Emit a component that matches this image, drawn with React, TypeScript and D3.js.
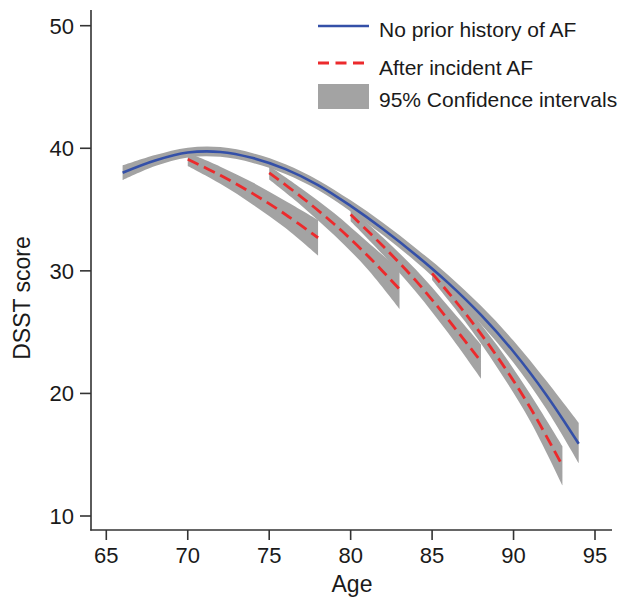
import React, { useEffect, useRef } from 'react';
import * as d3 from 'd3';

// no prior history of AF (blue) with its 95% CI
const blueAges = [66, 68, 70, 72, 74, 76, 78, 80, 82, 84, 86, 88, 90, 92, 94];
const blueScore = [38.0, 39.0, 39.65, 39.7, 39.2, 38.3, 37.0, 35.3, 33.4, 31.3, 29.0, 26.4, 23.4, 19.9, 15.9];
const blueLow = [37.4, 38.55, 39.25, 39.3, 38.8, 37.9, 36.6, 34.85, 32.9, 30.75, 28.35, 25.65, 22.5, 18.75, 14.3];
const blueHigh = [38.6, 39.45, 40.05, 40.1, 39.6, 38.7, 37.4, 35.75, 33.9, 31.85, 29.65, 27.15, 24.3, 21.05, 17.6];

// after incident AF, one segment per onset age
const afAges1 = [70, 72, 74, 76, 78];
const afScore1 = [39.1, 37.8, 36.3, 34.6, 32.7];
const afLow1 = [38.55, 37.1, 35.4, 33.5, 31.25];
const afHigh1 = [39.65, 38.5, 37.2, 35.7, 34.15];

const afAges2 = [75, 77, 79, 81, 83];
const afScore2 = [38.0, 36.0, 33.8, 31.3, 28.5];
const afLow2 = [37.45, 35.3, 32.9, 30.2, 26.9];
const afHigh2 = [38.55, 36.7, 34.7, 32.4, 30.1];

const afAges3 = [80, 82, 84, 86, 88];
const afScore3 = [34.6, 32.0, 29.2, 26.0, 22.6];
const afLow3 = [34.05, 31.3, 28.3, 24.9, 21.2];
const afHigh3 = [35.15, 32.7, 30.1, 27.1, 24.0];

const afAges4 = [85, 87, 89, 91, 93];
const afScore4 = [29.8, 26.6, 23.0, 18.9, 14.1];
const afLow4 = [29.25, 25.9, 22.1, 17.8, 12.5];
const afHigh4 = [30.35, 27.3, 23.9, 20.0, 15.7];

const xTicks = [65, 70, 75, 80, 85, 90, 95];
const yTicks = [10, 20, 30, 40, 50];
const legendLabels = ['No prior history of AF', 'After incident AF', '95% Confidence intervals'];

const BLUE = '#3450a8';
const RED = '#ec2a2c';
const GREY = '#a3a3a3';
const AXIS = '#333333';
const FONT = '"Liberation Sans", Arial, Helvetica, sans-serif';

const App = () => {
  const ref = useRef<SVGSVGElement>(null);

  useEffect(() => {
    const svg = d3.select(ref.current);
    svg.selectAll('*').remove();

    const x = d3.scaleLinear().domain([65, 95]).range([106.3, 595]);
    const y = d3.scaleLinear().domain([10, 50]).range([516, 25.7]);

    const series = [
      { ages: blueAges, mid: blueScore, lo: blueLow, hi: blueHigh, color: BLUE, dash: null },
      { ages: afAges1, mid: afScore1, lo: afLow1, hi: afHigh1, color: RED, dash: '12,6' },
      { ages: afAges2, mid: afScore2, lo: afLow2, hi: afHigh2, color: RED, dash: '12,6' },
      { ages: afAges3, mid: afScore3, lo: afLow3, hi: afHigh3, color: RED, dash: '12,6' },
      { ages: afAges4, mid: afScore4, lo: afLow4, hi: afHigh4, color: RED, dash: '12,6' },
    ];

    const curve = d3.curveCatmullRom.alpha(0.5);

    const area = d3.area<number>()
      .x(d => x(d))
      .curve(curve);

    const line = d3.line<[number, number]>()
      .x(d => x(d[0]))
      .y(d => y(d[1]))
      .curve(curve);

    // confidence bands underneath everything
    series.forEach(s => {
      const a = area
        .y0((_, i) => y(s.lo[i]))
        .y1((_, i) => y(s.hi[i]));
      svg.append('path')
        .attr('d', a(s.ages))
        .attr('fill', GREY)
        .attr('stroke', 'none');
    });

    series.forEach(s => {
      const p = svg.append('path')
        .attr('d', line(s.ages.map((a, i) => [a, s.mid[i]] as [number, number])))
        .attr('fill', 'none')
        .attr('stroke', s.color)
        .attr('stroke-width', s.dash ? 2.8 : 2.6);
      if (s.dash) p.attr('stroke-dasharray', s.dash);
    });

    // axes
    svg.append('line')
      .attr('x1', 91).attr('x2', 91)
      .attr('y1', 10).attr('y2', 530.5)
      .attr('stroke', AXIS).attr('stroke-width', 1.6);
    svg.append('line')
      .attr('x1', 90.2).attr('x2', 612)
      .attr('y1', 530).attr('y2', 530)
      .attr('stroke', AXIS).attr('stroke-width', 1.6);

    const xg = svg.append('g');
    xTicks.forEach(t => {
      xg.append('line')
        .attr('x1', x(t)).attr('x2', x(t))
        .attr('y1', 530).attr('y2', 540)
        .attr('stroke', AXIS).attr('stroke-width', 1.6);
      xg.append('text')
        .attr('x', x(t)).attr('y', 563)
        .attr('text-anchor', 'middle')
        .style('font-family', FONT).style('font-size', '22px')
        .attr('fill', '#1a1a1a')
        .text(t);
    });

    const yg = svg.append('g');
    yTicks.forEach(t => {
      yg.append('line')
        .attr('x1', 80).attr('x2', 91)
        .attr('y1', y(t)).attr('y2', y(t))
        .attr('stroke', AXIS).attr('stroke-width', 1.6);
      yg.append('text')
        .attr('x', 74).attr('y', y(t))
        .attr('dy', '0.36em')
        .attr('text-anchor', 'end')
        .style('font-family', FONT).style('font-size', '22px')
        .attr('fill', '#1a1a1a')
        .text(t);
    });

    svg.append('text')
      .attr('x', 352).attr('y', 592)
      .attr('text-anchor', 'middle')
      .style('font-family', FONT).style('font-size', '23px')
      .attr('fill', '#1a1a1a')
      .text('Age');

    svg.append('text')
      .attr('transform', 'translate(30,298) rotate(-90)')
      .attr('text-anchor', 'middle')
      .style('font-family', FONT).style('font-size', '23px')
      .attr('fill', '#1a1a1a')
      .text('DSST score');

    // legend
    const lg = svg.append('g');
    lg.append('line')
      .attr('x1', 318).attr('x2', 369).attr('y1', 26).attr('y2', 26)
      .attr('stroke', BLUE).attr('stroke-width', 2.6);
    lg.append('line')
      .attr('x1', 318).attr('x2', 369).attr('y1', 63).attr('y2', 63)
      .attr('stroke', RED).attr('stroke-width', 2.8)
      .attr('stroke-dasharray', '11,6.5');
    lg.append('rect')
      .attr('x', 318).attr('y', 84).attr('width', 51).attr('height', 25)
      .attr('fill', GREY);
    [37, 75, 107].forEach((by, i) => {
      lg.append('text')
        .attr('x', 379).attr('y', by)
        .style('font-family', FONT).style('font-size', '21px')
        .attr('fill', '#1a1a1a')
        .text(legendLabels[i]);
    });
  }, []);

  return (
    <div style={{ position: 'absolute', left: 0, top: 0 }}>
      <svg ref={ref} width={623} height={599} style={{ display: 'block', background: '#fff' }}></svg>
    </div>
  );
};

export default App;
